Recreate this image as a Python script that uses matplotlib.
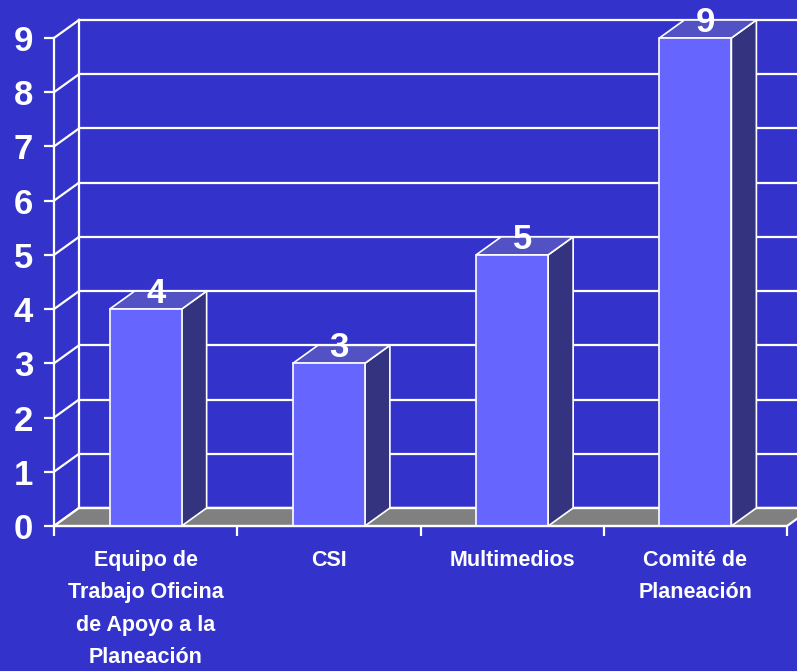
import matplotlib
matplotlib.use("Agg")
import matplotlib.pyplot as plt
from matplotlib.patches import Polygon

categories = ["Equipo de\nTrabajo Oficina\nde Apoyo a la\nPlaneación", "CSI", "Multimedios", "Comité de\nPlaneación"]
values = [4, 3, 5, 9]
y_ticks = list(range(0, 10))

BG = "#3333CC"
FRONT = "#6666FF"
SIDE = "#333380"
TOP = "#5252C4"
FLOOR = "#808080"
W = "white"

plt.rcParams['font.family'] = ['Liberation Sans', 'DejaVu Sans']

W_PX, H_PX = 797, 671
fig = plt.figure(figsize=(W_PX / 100, H_PX / 100), dpi=100, facecolor=BG)
ax = fig.add_axes([54 / W_PX, (H_PX - 526) / H_PX, (787 - 54) / W_PX, (526 - 38) / H_PX])
ax.set_facecolor(BG)
n = len(categories)
ymax = max(y_ticks)
ax.set_xlim(-0.5, n - 0.5)
ax.set_ylim(0, ymax)

# 3D depth offsets in data units
DX = 25 / ((787 - 54) / n)
DY = 18 / ((526 - 38) / ymax)
BW = 0.393  # bar front width in category units

lw = 1.6
# back wall gridlines
for v in y_ticks:
    ax.plot([-0.5 + DX, n - 0.5 + DX + 0.2], [v + DY, v + DY], color=W, lw=lw, clip_on=False, zorder=1)
    ax.plot([-0.5, -0.5 + DX], [v, v + DY], color=W, lw=lw, clip_on=False, zorder=1)
ax.plot([-0.5 + DX, -0.5 + DX], [DY, ymax + DY], color=W, lw=lw, clip_on=False, zorder=1)

# floor
floor = Polygon([(-0.5, 0), (n - 0.5, 0), (n - 0.5 + DX, DY), (-0.5 + DX, DY)],
                closed=True, facecolor=FLOOR, edgecolor=W, lw=lw, clip_on=False, zorder=2)
ax.add_patch(floor)
ax.plot([-0.5 + DX, n - 0.5 + DX + 0.2], [DY, DY], color=W, lw=lw, clip_on=False, zorder=2)

# bars
for i, v in enumerate(values):
    x0, x1 = i - BW / 2, i + BW / 2
    side = Polygon([(x1, 0), (x1 + DX, DY), (x1 + DX, v + DY), (x1, v)], closed=True,
                   facecolor=SIDE, edgecolor=W, lw=1.2, clip_on=False, zorder=3)
    top = Polygon([(x0, v), (x1, v), (x1 + DX, v + DY), (x0 + DX, v + DY)], closed=True,
                  facecolor=TOP, edgecolor=W, lw=1.2, clip_on=False, zorder=3)
    front = Polygon([(x0, 0), (x1, 0), (x1, v), (x0, v)], closed=True,
                    facecolor=FRONT, edgecolor=W, lw=1.2, clip_on=False, zorder=4)
    for p in (side, top, front):
        ax.add_patch(p)
    ax.text(i + DX / 2 - 0.012, v + DY / 2 + 0.12, str(v), ha="center", va="center",
            color=W, fontsize=25, fontweight="bold", zorder=6, clip_on=False)

# spines
for s in ("top", "right"):
    ax.spines[s].set_visible(False)
for s in ("left", "bottom"):
    ax.spines[s].set_color(W)
    ax.spines[s].set_linewidth(lw)
    ax.spines[s].set_zorder(5)

ax.set_yticks(y_ticks)
ax.set_yticklabels([str(t) for t in y_ticks])
ax.tick_params(axis="y", colors=W, length=7, width=lw, pad=8, labelsize=25)
for lab in ax.get_yticklabels():
    lab.set_fontweight("bold")

ax.set_xticks([i - 0.5 for i in range(n + 1)])
ax.set_xticklabels([""] * (n + 1))
ax.set_xticks(list(range(n)), minor=True)
ax.set_xticklabels(categories, minor=True, fontsize=15.5, fontweight="bold", color=W, linespacing=1.72)
ax.tick_params(axis="x", which="minor", length=0, pad=17)
ax.tick_params(axis="x", which="major", colors=W, length=7, width=lw)

fig.savefig("out.png", dpi=100, facecolor=BG)
